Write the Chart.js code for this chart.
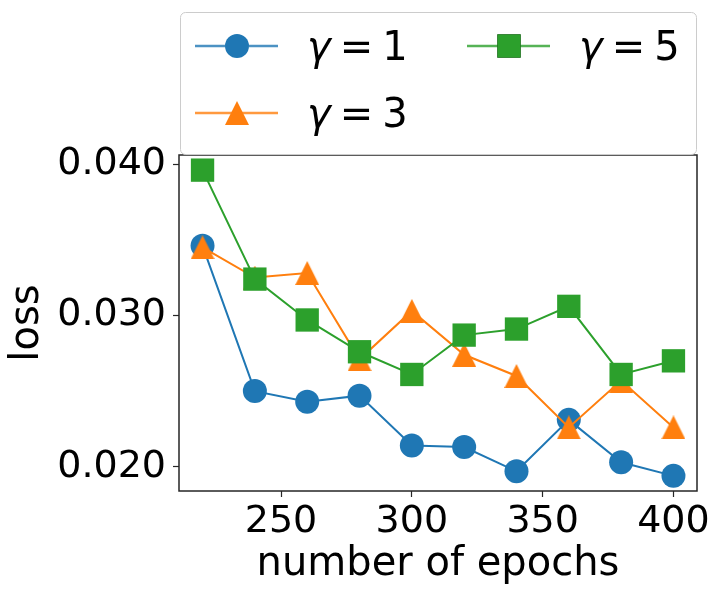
<!DOCTYPE html>
<html>
<head>
<meta charset="utf-8">
<script src="https://cdn.jsdelivr.net/npm/chart.js@4"></script>
<style>
  html, body { margin: 0; padding: 0; background: #fff; }
  canvas { display: block; }
</style>
</head>
<body>
<canvas id="lossChart" width="718" height="599"></canvas>
<script>
// Data
const epochs = [220, 240, 260, 280, 300, 320, 340, 360, 380, 400];
const lossGamma1 = [0.0346, 0.0250, 0.0243, 0.0247, 0.0214, 0.0213, 0.0197, 0.0231, 0.0203, 0.0194];
const lossGamma3 = [0.0345, 0.0325, 0.0328, 0.0271, 0.0303, 0.0274, 0.0260, 0.0226, 0.0257, 0.0226];
const lossGamma5 = [0.0396, 0.0324, 0.0297, 0.0276, 0.0261, 0.0287, 0.0291, 0.0306, 0.0261, 0.0270];
const xTicks = [250, 300, 350, 400];
const yTicks = [0.020, 0.030, 0.040];
const legendLabels = ['1', '3', '5'];

const FONT = "'DejaVu Sans', sans-serif";
const BLUE = '#1f77b4', ORANGE = '#ff7f0e', GREEN = '#2ca02c';

// matplotlib-like '^' marker (width == height)
function makeTriangle(color, size) {
    const c = document.createElement('canvas');
    c.width = size; c.height = size;
    const g = c.getContext('2d');
    g.fillStyle = color;
    g.beginPath();
    g.moveTo(size / 2, 0);
    g.lineTo(size, size);
    g.lineTo(0, size);
    g.closePath();
    g.fill();
    return c;
}
const triangle = makeTriangle(ORANGE, 24);

const toPoints = (ys) => epochs.map((x, i) => ({ x: x, y: ys[i] }));

// box around the plot area
const framePlugin = {
    id: 'frame',
    afterDatasetsDraw(chart) {
        const { ctx, chartArea: a } = chart;
        ctx.save();
        ctx.strokeStyle = '#262626';
        ctx.lineWidth = 1.5;
        ctx.strokeRect(a.left, a.top, a.right - a.left, a.bottom - a.top);
        ctx.restore();
    }
};

// two-column legend above the plot, column-major like matplotlib
const legendPlugin = {
    id: 'mplLegend',
    afterDraw(chart) {
        const ctx = chart.ctx;
        ctx.save();
        ctx.fillStyle = '#fff';
        ctx.strokeStyle = '#cccccc';
        ctx.lineWidth = 1;
        ctx.beginPath();
        ctx.roundRect(180.5, 12.5, 516, 142, 5);
        ctx.fill();
        ctx.stroke();

        const entries = [
            { col: 0, row: 0, ds: 0 },
            { col: 0, row: 1, ds: 1 },
            { col: 1, row: 0, ds: 2 }
        ];
        const colX = [195, 467];
        const rowY = [46, 113];
        entries.forEach(e => {
            const ds = chart.data.datasets[e.ds];
            const x0 = colX[e.col], y = rowY[e.row];
            ctx.strokeStyle = ds.borderColor;
            ctx.globalAlpha = 0.8;
            ctx.lineWidth = 2.5;
            ctx.beginPath();
            ctx.moveTo(x0, y);
            ctx.lineTo(x0 + 83, y);
            ctx.stroke();
            ctx.globalAlpha = 1;
            Chart.helpers.drawPoint(ctx, {
                pointStyle: ds.pointStyle,
                radius: ds.pointRadius,
                borderWidth: 0
            }, x0 + 42, y);
            ctx.fillStyle = ds.pointBackgroundColor;
            if (ds.pointStyle === 'circle' || ds.pointStyle === 'rect') ctx.fill();

            // "γ = n" with an italic gamma
            let tx = x0 + 112;
            ctx.fillStyle = '#000';
            ctx.textBaseline = 'alphabetic';
            ctx.font = 'italic 40px ' + FONT;
            ctx.fillText('γ', tx, y + 14);
            tx += ctx.measureText('γ').width + 9;
            ctx.font = '40px ' + FONT;
            ctx.fillText('=', tx, y + 14);
            tx += ctx.measureText('=').width + 9;
            ctx.fillText(legendLabels[e.ds], tx, y + 14);
        });
        ctx.restore();
    }
};

new Chart(document.getElementById('lossChart'), {
    type: 'line',
    data: {
        datasets: [
            {
                label: 'γ = 1',
                data: toPoints(lossGamma1),
                borderColor: BLUE,
                backgroundColor: BLUE,
                pointBackgroundColor: BLUE,
                pointBorderColor: BLUE,
                pointStyle: 'circle',
                pointRadius: 12,
                borderWidth: 2,
                pointBorderWidth: 0,
                order: 2
            },
            {
                label: 'γ = 3',
                data: toPoints(lossGamma3),
                borderColor: ORANGE,
                backgroundColor: ORANGE,
                pointBackgroundColor: ORANGE,
                pointStyle: triangle,
                pointRadius: 12,
                borderWidth: 2,
                pointBorderWidth: 0,
                order: 1
            },
            {
                label: 'γ = 5',
                data: toPoints(lossGamma5),
                borderColor: GREEN,
                backgroundColor: GREEN,
                pointBackgroundColor: GREEN,
                pointBorderColor: GREEN,
                pointStyle: 'rect',
                pointRadius: 16.5,
                borderWidth: 2,
                pointBorderWidth: 0,
                order: 0
            }
        ]
    },
    options: {
        responsive: false,
        animation: false,
        devicePixelRatio: 1,
        clip: false,
        layout: { padding: { top: 155, right: 21, left: 0, bottom: 0 } },
        plugins: {
            legend: { display: false },
            tooltip: { enabled: false }
        },
        elements: { line: { tension: 0 } },
        scales: {
            x: {
                type: 'linear',
                min: 211,
                max: 409,
                afterBuildTicks: (scale) => { scale.ticks = xTicks.map(v => ({ value: v })); },
                afterFit: (scale) => { scale.height = 108; },
                border: { display: false },
                grid: { drawOnChartArea: false, drawTicks: true, tickLength: 6, tickWidth: 1.2, color: '#262626' },
                ticks: {
                    color: '#000',
                    font: { family: FONT, size: 38 },
                    padding: 2,
                    maxRotation: 0,
                    autoSkip: false
                },
                title: {
                    display: true,
                    text: 'number of epochs',
                    color: '#000',
                    font: { family: FONT, size: 40 },
                    padding: { top: 0, bottom: 10 }
                }
            },
            y: {
                type: 'linear',
                min: 0.0184,
                max: 0.0406,
                afterBuildTicks: (scale) => { scale.ticks = yTicks.map(v => ({ value: v })); },
                afterFit: (scale) => { scale.width = 179; },
                border: { display: false },
                grid: { drawOnChartArea: false, drawTicks: true, tickLength: 6, tickWidth: 1.2, color: '#262626' },
                ticks: {
                    color: '#000',
                    font: { family: FONT, size: 38 },
                    padding: 7,
                    autoSkip: false,
                    callback: (v) => v.toFixed(3)
                },
                title: {
                    display: true,
                    text: 'loss',
                    color: '#000',
                    font: { family: FONT, size: 40 },
                    padding: { top: 4, bottom: 0 }
                }
            }
        }
    },
    plugins: [framePlugin, legendPlugin]
});
</script>
</body>
</html>
